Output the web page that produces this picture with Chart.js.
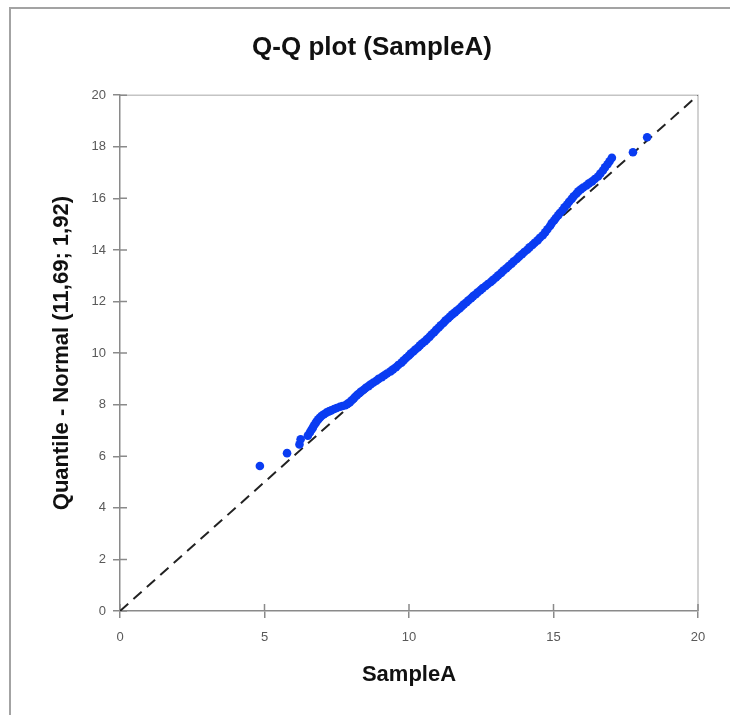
<!DOCTYPE html>
<html>
<head>
<meta charset="utf-8">
<title>Q-Q plot (SampleA)</title>
<script src="https://cdn.jsdelivr.net/npm/chart.js@4"></script>
<style>
    html, body { margin: 0; padding: 0; background: #fff; overflow: hidden; }
    body { width: 730px; height: 715px; position: relative; }
    #frame { position: absolute; left: 9px; top: 7px; width: 760px; height: 760px;
             border-left: 2px solid #a3a3a3; border-top: 2px solid #a3a3a3; }
    #qq { position: absolute; left: 10px; top: 8px; }
</style>
</head>
<body>
<div id="frame"></div>
<canvas id="qq" width="724" height="707"></canvas>
<script>
(function () {
    'use strict';

    // sorted sample values (x) against the fitted normal quantiles (y)
    var sampleA = [
        4.84, 5.78, 6.21, 6.25, 6.50, 6.57, 6.62, 6.67, 6.71, 6.76,
        6.80, 6.86, 6.92, 6.98, 7.06, 7.14, 7.23, 7.31, 7.41, 7.50,
        7.61, 7.70, 7.80, 7.87, 7.95, 8.01, 8.08, 8.13, 8.20, 8.28,
        8.34, 8.43, 8.50, 8.60, 8.68, 8.77, 8.87, 8.95, 9.06, 9.15,
        9.24, 9.36, 9.45, 9.55, 9.63, 9.74, 9.82, 9.90, 9.99, 10.06,
        10.15, 10.22, 10.31, 10.38, 10.46, 10.55, 10.62, 10.71, 10.78, 10.87,
        10.94, 11.03, 11.10, 11.19, 11.26, 11.35, 11.42, 11.50, 11.59, 11.66,
        11.75, 11.82, 11.90, 11.99, 12.06, 12.15, 12.22, 12.31, 12.38, 12.47,
        12.55, 12.65, 12.73, 12.83, 12.91, 13.01, 13.09, 13.19, 13.27, 13.37,
        13.45, 13.55, 13.63, 13.73, 13.81, 13.91, 13.99, 14.09, 14.17, 14.27,
        14.35, 14.45, 14.53, 14.63, 14.71, 14.79, 14.88, 14.94, 15.02, 15.08,
        15.16, 15.22, 15.31, 15.38, 15.47, 15.54, 15.63, 15.70, 15.79, 15.86,
        15.95, 16.03, 16.14, 16.23, 16.34, 16.43, 16.54, 16.62, 16.71, 16.78,
        16.87, 16.94, 17.02, 17.75, 18.24
    ];
    var normalQ = [
        5.62, 6.12, 6.46, 6.66, 6.80, 6.92, 7.02, 7.10, 7.19, 7.27,
        7.35, 7.43, 7.50, 7.57, 7.63, 7.69, 7.74, 7.78, 7.83, 7.87,
        7.92, 7.95, 7.98, 8.03, 8.09, 8.16, 8.23, 8.30, 8.37, 8.44,
        8.51, 8.58, 8.65, 8.72, 8.79, 8.86, 8.93, 9.00, 9.07, 9.14,
        9.21, 9.29, 9.37, 9.45, 9.54, 9.63, 9.72, 9.81, 9.90, 9.98,
        10.06, 10.14, 10.22, 10.30, 10.38, 10.46, 10.54, 10.63, 10.72, 10.81,
        10.90, 10.99, 11.08, 11.17, 11.26, 11.34, 11.42, 11.50, 11.58, 11.65,
        11.73, 11.81, 11.89, 11.97, 12.05, 12.13, 12.21, 12.28, 12.36, 12.44,
        12.52, 12.60, 12.68, 12.76, 12.84, 12.93, 13.02, 13.11, 13.20, 13.29,
        13.38, 13.47, 13.56, 13.65, 13.74, 13.83, 13.92, 14.01, 14.10, 14.19,
        14.28, 14.37, 14.47, 14.57, 14.68, 14.80, 14.93, 15.04, 15.14, 15.24,
        15.34, 15.43, 15.54, 15.65, 15.76, 15.87, 15.98, 16.08, 16.18, 16.27,
        16.35, 16.42, 16.50, 16.58, 16.66, 16.75, 16.85, 16.96, 17.08, 17.20,
        17.32, 17.44, 17.57, 17.79, 18.37
    ];

    // y = x reference line
    var refX = [0, 20];
    var refY = [0, 20];

    var xTickValues = [0, 5, 10, 15, 20];
    var yTickValues = [0, 2, 4, 6, 8, 10, 12, 14, 16, 18, 20];

    var axisColor = '#8a8a8a';
    var labelColor = '#595959';
    var fontFamily = '"Liberation Sans", Arial, sans-serif';

    var points = sampleA.map(function (v, i) { return { x: v, y: normalQ[i] }; });
    var line = refX.map(function (v, i) { return { x: v, y: refY[i] }; });

    function setTicks(values) {
        return function (scale) {
            scale.ticks = values.map(function (v) { return { value: v }; });
        };
    }

    // light frame on top/right of the plot, plus the inner half of the crossing ticks
    var plotFrame = {
        id: 'plotFrame',
        beforeDatasetsDraw: function (chart) {
            var a = chart.chartArea;
            var ctx = chart.ctx;
            ctx.save();
            ctx.lineWidth = 1.5;
            ctx.strokeStyle = '#c4c4c4';
            ctx.beginPath();
            ctx.moveTo(a.left, a.top);
            ctx.lineTo(a.right, a.top);
            ctx.lineTo(a.right, a.bottom);
            ctx.stroke();

            ctx.strokeStyle = axisColor;
            ctx.beginPath();
            chart.scales.x.ticks.forEach(function (t) {
                var px = chart.scales.x.getPixelForValue(t.value);
                ctx.moveTo(px, a.bottom);
                ctx.lineTo(px, a.bottom - 7);
            });
            chart.scales.y.ticks.forEach(function (t) {
                var py = chart.scales.y.getPixelForValue(t.value);
                ctx.moveTo(a.left, py);
                ctx.lineTo(a.left + 7, py);
            });
            ctx.stroke();
            ctx.restore();
        }
    };

    new Chart(document.getElementById('qq'), {
        type: 'scatter',
        data: {
            datasets: [{
                label: 'SampleA',
                data: points,
                backgroundColor: '#0a3cf2',
                borderColor: '#0a3cf2',
                borderWidth: 0,
                pointRadius: 4.3,
                order: 1
            }, {
                type: 'line',
                label: 'y = x',
                data: line,
                borderColor: '#222222',
                borderWidth: 2,
                borderDash: [11, 7],
                pointRadius: 0,
                fill: false,
                order: 2
            }]
        },
        options: {
            responsive: false,
            animation: false,
            events: [],
            layout: { padding: { top: 24, right: 36, bottom: 0, left: 36 } },
            plugins: {
                legend: { display: false },
                tooltip: { enabled: false },
                title: {
                    display: true,
                    text: 'Q-Q plot (SampleA)',
                    color: '#111111',
                    font: { family: fontFamily, size: 26, weight: 'bold' },
                    padding: { top: 0, bottom: 32 }
                }
            },
            scales: {
                x: {
                    type: 'linear',
                    min: 0,
                    max: 20,
                    afterBuildTicks: setTicks(xTickValues),
                    afterFit: function (scale) { scale.height = 104; },
                    grid: { drawOnChartArea: false, tickLength: 7, color: axisColor, lineWidth: 1.5 },
                    border: { color: axisColor, width: 1.5 },
                    ticks: { color: labelColor, padding: 12, font: { family: fontFamily, size: 13 } },
                    title: {
                        display: true,
                        text: 'SampleA',
                        color: '#111111',
                        font: { family: fontFamily, size: 22, weight: 'bold' },
                        padding: { top: 0, bottom: 27 }
                    }
                },
                y: {
                    type: 'linear',
                    min: 0,
                    max: 20,
                    afterBuildTicks: setTicks(yTickValues),
                    afterFit: function (scale) { scale.width = 74; },
                    grid: { drawOnChartArea: false, tickLength: 7, color: axisColor, lineWidth: 1.5 },
                    border: { color: axisColor, width: 1.5 },
                    ticks: { color: labelColor, padding: 7, font: { family: fontFamily, size: 13 } },
                    title: {
                        display: true,
                        text: 'Quantile - Normal (11,69; 1,92)',
                        color: '#111111',
                        font: { family: fontFamily, size: 22, weight: 'bold' },
                        padding: { top: 3, bottom: 0 }
                    }
                }
            }
        },
        plugins: [plotFrame]
    });
})();
</script>
</body>
</html>
